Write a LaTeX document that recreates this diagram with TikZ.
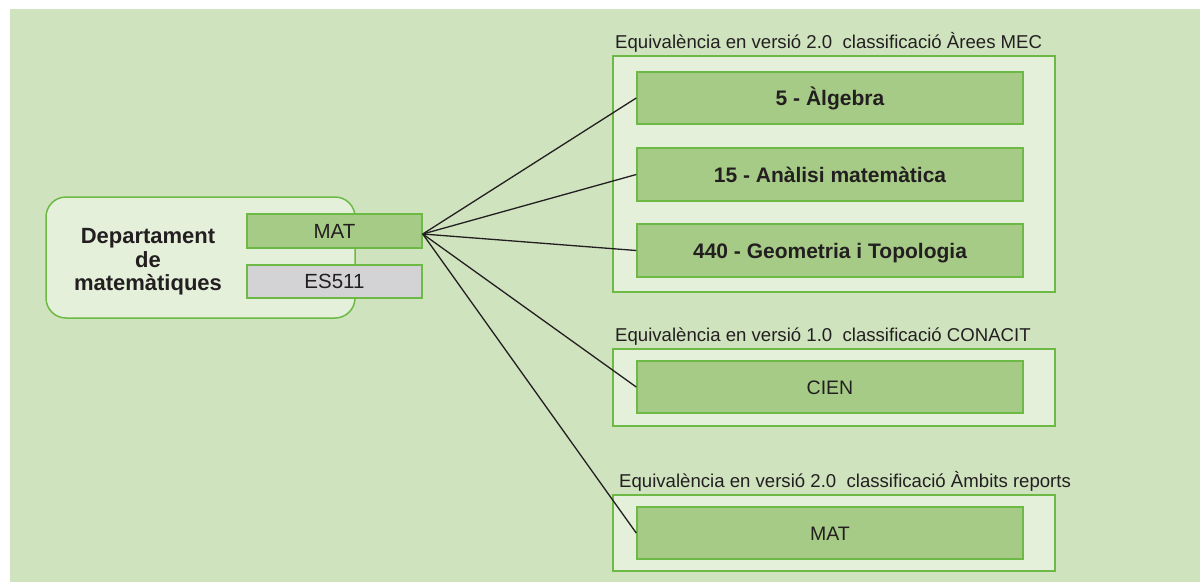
\documentclass[tikz,border=0pt]{standalone}
\usepackage{fontspec}
\setmainfont{Liberation Sans}
\definecolor{bg}{HTML}{D0E3BF}
\definecolor{light}{HTML}{E5F0DB}
\definecolor{mid}{HTML}{A6CB86}
\definecolor{gborder}{HTML}{6CBA45}
\definecolor{grey}{HTML}{D3D3D5}
\definecolor{ink}{HTML}{231F20}
\begin{document}
\begin{tikzpicture}[x=1pt,y=-1pt,
  box/.style={draw=gborder, line width=1.5pt, inner sep=0pt, text=ink},
  outerbox/.style={box, fill=light, minimum width=442pt},
  innerbox/.style={box, fill=mid, minimum width=386pt, minimum height=52pt},
  boldtxt/.style={font=\fontsize{21}{25}\selectfont\bfseries, text height=15pt, text depth=0pt},
  regtxt/.style={font=\fontsize{19.5}{23}\selectfont, text height=14pt, text depth=0pt},
  lbl/.style={anchor=base west, inner sep=0pt, text=ink, font=\fontsize{18.6}{22}\selectfont},
  conn/.style={draw=ink, line width=1.3pt}]
\useasboundingbox (0,0) rectangle (1200,582);
\fill[bg] (10,9) rectangle (1200,582);

% left department
\node[box, fill=light, rounded corners=20pt, minimum width=309pt, minimum height=121pt] (dept) at (200.5,257.5) {};
\node[align=center, text=ink, inner sep=0pt, font=\fontsize{22}{23.5}\selectfont\bfseries] (depttxt) at (148,262) {Departament\\de\\matemàtiques};
\node[box, fill=mid, minimum width=175pt, minimum height=34pt, font=\fontsize{20.5}{24}\selectfont, text height=14.7pt, text depth=0pt] (mat) at (334.5,231) {MAT};
\node[box, fill=grey, minimum width=175pt, minimum height=33pt, font=\fontsize{20.5}{24}\selectfont, text height=14.7pt, text depth=0pt] (es) at (334.5,281.5) {ES511};

% group 1
\node[lbl] (l1) at (615,48) {Equivalència en versió 2.0\ \ classificació Àrees MEC};
\node[outerbox, minimum height=236pt] (g1) at (834,174) {};
\node[innerbox, boldtxt] (alg) at (830,98) {5 - Àlgebra};
\node[innerbox, boldtxt, minimum height=53pt] (ana) at (830,174.5) {15 - Anàlisi matemàtica};
\node[innerbox, boldtxt, minimum height=53pt] (geo) at (830,250.5) {440 - Geometria i Topologia};

% group 2
\node[lbl] (l2) at (615,341) {Equivalència en versió 1.0\ \ classificació CONACIT};
\node[outerbox, minimum height=77pt] (g2) at (834,387.5) {};
\node[innerbox, regtxt] (cien) at (830,387) {CIEN};

% group 3
\node[lbl] (l3) at (619,487) {Equivalència en versió 2.0\ \ classificació Àmbits reports};
\node[outerbox, minimum height=76pt] (g3) at (834,533) {};
\node[innerbox, regtxt] (mat2) at (830,533) {MAT};

% connectors
\coordinate (hub) at ([yshift=-3pt]mat.east);
\draw[conn] (hub) -- (alg.west);
\draw[conn] (hub) -- (ana.west);
\draw[conn] (hub) -- (geo.west);
\draw[conn] (hub) -- (cien.west);
\draw[conn] (hub) -- (mat2.west);
\end{tikzpicture}
\end{document}
